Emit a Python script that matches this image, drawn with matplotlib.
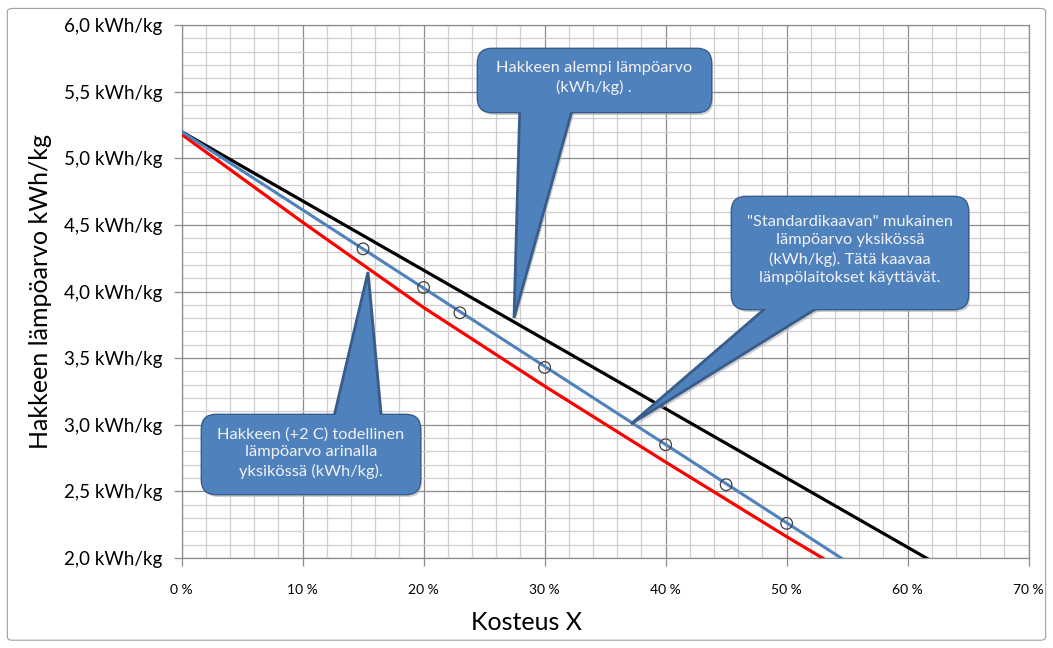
"""Hakkeen lämpöarvo kosteuden funktiona"""

import matplotlib
matplotlib.use("Agg")
import matplotlib.pyplot as plt
from matplotlib.patches import FancyBboxPatch, Polygon
from matplotlib.ticker import MultipleLocator, FuncFormatter

plt.rcParams['font.family'] = ['Lato', 'DejaVu Sans']

# Line end points (moisture %, kWh/kg), lines are clipped by the axes
line_x = [0, 70]
alempi = [5.2, 1.56]        # black: Hakkeen alempi lämpöarvo
standardi = [5.2, 1.09]     # blue: "Standardikaavan" mukainen

# red: todellinen lämpöarvo arinalla (slightly curved)
red_x = [0, 10, 20, 30, 40, 50, 60]
todellinen = [5.18, 4.52, 3.88, 3.29, 2.72, 2.16, 1.62]

# Markers on the standard line
marker_x = [15, 20, 23, 30, 40, 45, 50]
marker_y = [4.32, 4.03, 3.84, 3.43, 2.85, 2.55, 2.26]

x_ticks = [0, 10, 20, 30, 40, 50, 60, 70]
y_ticks = [2.0, 2.5, 3.0, 3.5, 4.0, 4.5, 5.0, 5.5, 6.0]

fig = plt.figure(figsize=(10.53, 6.48), dpi=100)
ax = fig.add_axes([0.1724, 0.1389, 0.8045, 0.8225])

ax.plot(line_x, alempi, color='black', linewidth=2.3, zorder=3)
ax.plot(red_x, todellinen, color='#FF0000', linewidth=2.3, zorder=3)
ax.plot(line_x, standardi, color='#4F81BD', linewidth=2.2, zorder=4)
ax.scatter(marker_x, marker_y, s=70, facecolors='none', edgecolors='#404040',
           linewidths=0.9, zorder=5)

ax.set_xlim(0, 70)
ax.set_ylim(2.0, 6.0)
ax.set_xticks(x_ticks)
ax.set_yticks(y_ticks)
ax.xaxis.set_minor_locator(MultipleLocator(2))
ax.yaxis.set_minor_locator(MultipleLocator(0.1))
ax.xaxis.set_major_formatter(FuncFormatter(lambda v, p: '%d %%' % v))
ax.yaxis.set_major_formatter(
    FuncFormatter(lambda v, p: ('%.1f kWh/kg' % v).replace('.', ',')))

ax.grid(which='major', color='#8C8C8C', linewidth=0.9, zorder=0)
ax.grid(which='minor', color='#CFCFCF', linewidth=0.9, zorder=0)
ax.set_axisbelow(True)
for s in ax.spines.values():
    s.set_color('#8C8C8C')
    s.set_linewidth(0.9)
ax.tick_params(which='major', length=6, color='#8C8C8C', width=0.9)
ax.tick_params(which='minor', length=0)
ax.tick_params(axis='x', labelsize=10, pad=13)
ax.tick_params(axis='y', labelsize=13.5, pad=8)

ax.set_ylabel('Hakkeen lämpöarvo kWh/kg', fontsize=18, labelpad=8)
fig.text(0.5, 0.04, 'Kosteus X', fontsize=18, ha='center', va='center')

# outer chart frame
fig.patches.append(FancyBboxPatch((0.007, 0.012), 0.986, 0.975,
                                  boxstyle='round,pad=0,rounding_size=0.005',
                                  transform=fig.transFigure, fill=False,
                                  edgecolor='#A0A0A0', linewidth=0.8))

# callouts drawn in pixel coordinates on an overlay
ov = fig.add_axes([0, 0, 1, 1], zorder=10)
ov.set_xlim(0, 1053)
ov.set_ylim(648, 0)
ov.axis('off')

FILL = '#4F81BD'
EDGE = '#385D8A'


def callout(x0, y0, x1, y1, tail, lines, tx, ty):
    shadow = FancyBboxPatch((x0 + 2, y0 + 3), x1 - x0, y1 - y0,
                            boxstyle='round,pad=0,rounding_size=14',
                            facecolor='#B0B0B0', edgecolor='none', alpha=0.6)
    ov.add_patch(shadow)
    ov.add_patch(Polygon([(p[0] + 2, p[1] + 3) for p in tail],
                         facecolor='#B0B0B0', edgecolor='none', alpha=0.6))
    ov.add_patch(FancyBboxPatch((x0, y0), x1 - x0, y1 - y0,
                                boxstyle='round,pad=0,rounding_size=14',
                                facecolor=FILL, edgecolor=EDGE, linewidth=2))
    ov.add_patch(Polygon(tail, facecolor=FILL, edgecolor=EDGE, linewidth=2,
                         joinstyle='miter'))
    ov.add_patch(FancyBboxPatch((x0, y0), x1 - x0, y1 - y0,
                                boxstyle='round,pad=0,rounding_size=14',
                                facecolor=FILL, edgecolor='none'))
    ov.text(tx, ty, '\n'.join(lines), color='#F2F2F2', fontsize=11.8,
            ha='center', va='center', linespacing=1.38)


callout(478, 49, 711, 112,
        [(520, 100), (575, 100), (514, 318)],
        ['Hakkeen alempi lämpöarvo', '(kWh/kg) .'], 594, 78)
callout(732, 197, 968, 309,
        [(775, 300), (830, 300), (631, 424)],
        ['"Standardikaavan" mukainen', 'lämpöarvo yksikössä',
         '(kWh/kg). Tätä kaavaa', 'lämpölaitokset käyttävät.'], 850, 250)
callout(202, 415, 420, 494,
        [(332, 425), (382, 425), (368, 272)],
        ['Hakkeen (+2 C) todellinen', 'lämpöarvo arinalla',
         'yksikössä (kWh/kg).'], 311, 453)

fig.savefig('out.png', dpi=100)
